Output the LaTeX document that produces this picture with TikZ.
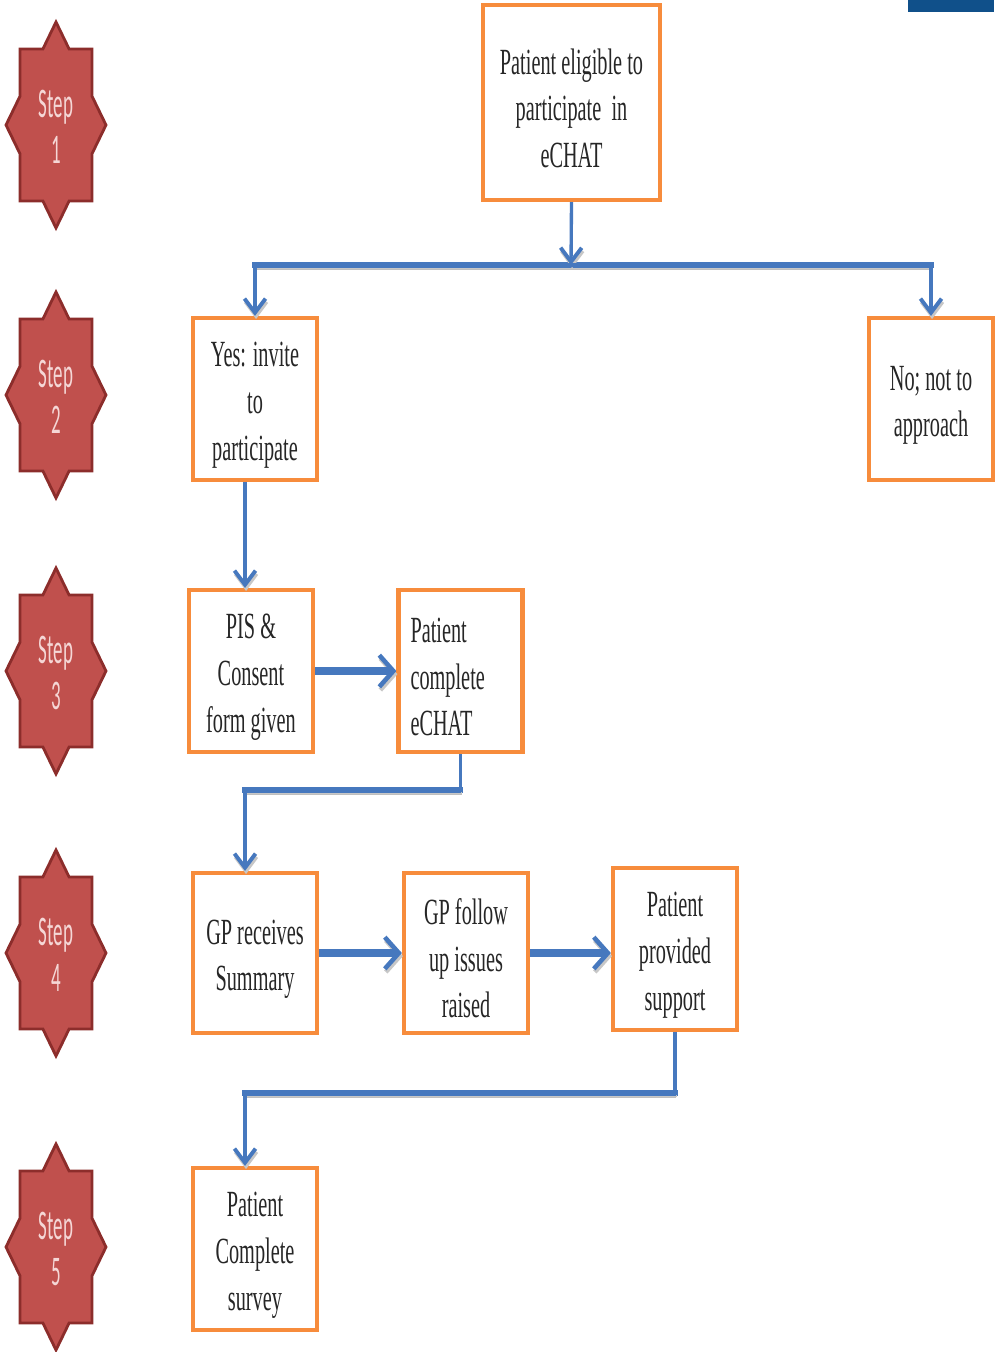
\documentclass[tikz,border=0pt]{standalone}
\usepackage{fontspec}
\setmainfont{Liberation Serif}[FakeStretch=0.55]
\newfontfamily\stepfont{Carlito}[FakeStretch=0.45]
\usetikzlibrary{arrows.meta}
\newcommand\topgap{\rule{0pt}{21pt}}
\definecolor{boxorange}{RGB}{247,140,60}
\definecolor{starfill}{RGB}{192,80,77}
\definecolor{starline}{RGB}{140,45,43}
\definecolor{steptxt}{RGB}{245,215,214}
\definecolor{linkblue}{RGB}{70,120,190}
\definecolor{topblue}{RGB}{16,80,138}
\tikzset{
  box/.style={draw=boxorange, line width=2.4pt, fill=white, minimum width=2.48cm,
    minimum height=3.24cm, inner sep=2pt, align=center,
    font=\fontsize{21}{26.5}\selectfont, text=black!85},
  steptext/.style={align=center, text=steptxt, inner sep=0pt,
    font=\stepfont\fontsize{24}{26}\selectfont},
  shadowed/.style={preaction={draw=black!22, transform canvas={shift={(0.6pt,-1.8pt)}}}},
  arrow/.style={draw=linkblue, line width=1.9pt, shadowed,
    -{Straight Barb[length=8pt,width=12pt,line width=2.2pt]}},
  busline/.style={draw=linkblue, line width=3.2pt, line cap=rect,
    preaction={draw=black!25, transform canvas={shift={(0.6pt,-2.4pt)}}}},
  thickarrow/.style={draw=linkblue, line width=4pt, shadowed,
    -{Straight Barb[length=8pt,width=18pt,line width=2.6pt]}},
  stepstar/.pic={
    \draw[fill=starfill, draw=starline, line width=1.6pt, line join=miter]
      (0,-103) -- (13.1,-76) -- (36,-76) -- (36,-28.8) -- (50,0) -- (36,28.8)
      -- (36,76) -- (13.1,76) -- (0,103) -- (-13.1,76) -- (-36,76) -- (-36,28.8)
      -- (-50,0) -- (-36,-28.8) -- (-36,-76) -- (-13.1,-76) -- cycle;
  }
}
\begin{document}
\begin{tikzpicture}[x=0.02cm, y=-0.02cm]
\useasboundingbox (0,0) rectangle (994,1352);
\fill[topblue] (908,0) rectangle (994,12);

% stars
\pic at (56,125) {stepstar};
\node[steptext] (s1) at (56,127) {Step\\1};
\pic at (56,395) {stepstar};
\node[steptext] (s2) at (56,397) {Step\\2};
\pic at (56,671) {stepstar};
\node[steptext] (s3) at (56,673) {Step\\3};
\pic at (56,953) {stepstar};
\node[steptext] (s4) at (56,955) {Step\\4};
\pic at (56,1247) {stepstar};
\node[steptext] (s5) at (56,1249) {Step\\5};

% boxes
\node[box, minimum width=3.54cm, minimum height=3.9cm] (b1) at (571.5,102.5)
  {\topgap Patient eligible to\\participate\ \ in\\eCHAT};
\node[box] (yes) at (255,399) {\topgap Yes: invite\\to\\participate};
\node[box] (no) at (931,399) {\topgap No; not to\\approach};
\node[box] (pis) at (251,671) {\topgap PIS \&\\Consent\\form given};
\node[box, align=left, text width=2.0cm, inner xsep=0pt] (pce) at (460.5,671)
  {\topgap Patient\\complete\\eCHAT};
\node[box, minimum height=3.2cm] (gp) at (255,953) {\topgap GP receives\\Summary};
\node[box, minimum height=3.2cm] (gpf) at (466,953) {\topgap GP follow\\up issues\\raised};
\node[box] (pps) at (675,949) {\topgap Patient\\provided\\support};
\node[box] (sur) at (255,1249) {\topgap Patient\\Complete\\survey};

\coordinate (bus) at (571,265);
\coordinate (e1) at (461,790);
\coordinate (e2) at (676,1093);

% connectors
\draw[busline] (yes.north |- bus) -- (no.north |- bus);
\draw[arrow] (b1.south) -- (bus);
\draw[arrow] (bus) -| (yes.north);
\draw[arrow] (bus) -| (no.north);
\draw[arrow] ([xshift=-0.2cm]yes.south) -- ([xshift=-0.2cm]yes.south |- pis.north);
\draw[thickarrow] (pis.east) -- (pce.west);
\draw[busline] (pce.south |- e1) -- ([xshift=-0.2cm]gp.north |- e1);
\draw[arrow] (pce.south) -- (pce.south |- e1) -| ([xshift=-0.2cm]gp.north);
\draw[thickarrow] (gp.east) -- (gpf.west);
\draw[thickarrow] (gpf.east) -- (gpf.east -| pps.west);
\draw[busline] (pps.south |- e2) -- ([xshift=-0.2cm]sur.north |- e2);
\draw[arrow] (pps.south) -- (pps.south |- e2) -| ([xshift=-0.2cm]sur.north);
\end{tikzpicture}
\end{document}
